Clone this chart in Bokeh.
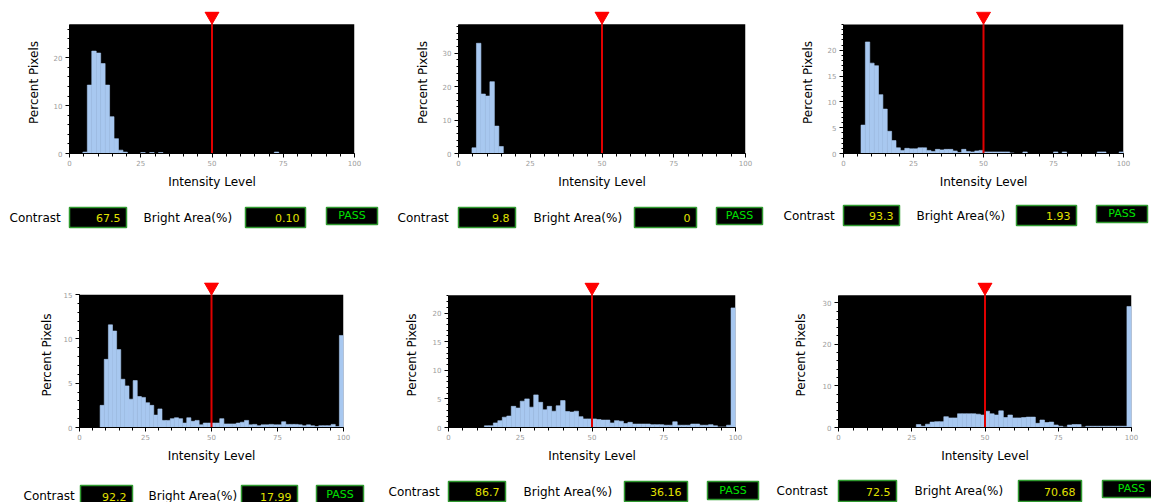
from bokeh.plotting import figure
from bokeh.layouts import column, row
from bokeh.models import Range1d, FixedTicker, BoxAnnotation
from bokeh.embed import file_html
from bokeh.resources import INLINE
from bokeh.core.properties import value

# ---------------- data ----------------
N_BINS = 64
THRESHOLD = 50
x_major_ticks = [0, 25, 50, 75, 100]
x_minor_ticks = [0, 5, 10, 15, 20, 25, 30, 35, 40, 45, 50, 55, 60, 65, 70, 75, 80, 85, 90, 95, 100]

hist_1 = [0, 0, 0, 0.3, 14.3, 21.4, 21.0, 18.8, 14.3, 7.7, 3.1, 0.7, 0.3, 0, 0, 0,
          0.2, 0, 0.2, 0, 0.2, 0, 0, 0, 0, 0, 0, 0, 0, 0, 0, 0,
          0, 0, 0, 0, 0, 0, 0, 0, 0, 0, 0, 0, 0, 0, 0.3, 0,
          0, 0, 0, 0, 0, 0, 0, 0, 0, 0, 0, 0, 0, 0, 0, 0]
hist_2 = [0, 0, 0, 1.7, 33.0, 17.8, 17.2, 21.5, 8.2, 2.1, 0, 0, 0, 0, 0, 0,
          0, 0, 0, 0, 0, 0, 0, 0, 0, 0, 0, 0, 0, 0, 0, 0,
          0, 0, 0, 0, 0, 0, 0, 0, 0, 0, 0, 0, 0, 0, 0, 0,
          0, 0, 0, 0, 0, 0, 0, 0, 0, 0, 0, 0, 0, 0, 0, 0]
hist_3 = [0, 0, 0, 0, 5.5, 21.6, 17.5, 17.0, 11.4, 8.6, 4.3, 2.5, 1.1, 0.6, 1.0, 0.9,
          0.9, 1.1, 1.1, 0.6, 0.4, 0.8, 0.7, 0.8, 0.8, 0.5, 0.2, 0.8, 0.4, 0.3, 0.5, 0.6,
          0.3, 0.3, 0.3, 0.3, 0.3, 0.3, 0.1, 0, 0, 0.3, 0, 0, 0, 0, 0, 0,
          0.3, 0, 0.3, 0, 0, 0, 0, 0, 0, 0, 0.3, 0.3, 0, 0, 0, 0.3]
hist_4 = [0, 0, 0, 0, 0, 2.5, 7.7, 11.6, 10.9, 8.8, 5.45, 4.7, 3.2, 5.3, 3.5, 3.4,
          2.8, 2.5, 1.4, 2.1, 0.8, 0.8, 1.0, 1.1, 1.0, 0.5, 1.1, 0.7, 0.8, 0.3, 0.5, 0.5,
          0.5, 0.5, 1.0, 0.4, 0.4, 0.4, 0.5, 0.6, 0.8, 0.3, 0.35, 0.2, 0.3, 0.3, 0.35, 0.3,
          0.3, 0.65, 0.35, 0.35, 0.35, 0.3, 0.2, 0.3, 0.2, 0.1, 0.2, 0.2, 0.2, 0.35, 0.1, 10.4]
hist_5 = [0, 0, 0, 0, 0, 0, 0, 0, 0.3, 0.3, 0.8, 1.2, 1.8, 2.0, 3.7, 3.4,
          4.6, 5.0, 3.55, 5.7, 4.4, 3.1, 3.7, 2.85, 3.8, 4.7, 2.8, 2.7, 2.85, 1.9, 1.5, 1.5,
          1.5, 1.4, 1.3, 1.3, 0.8, 1.2, 1.1, 0.7, 0.9, 0.6, 0.6, 0.6, 0.6, 0.5, 0.5, 0.5,
          0.4, 0.4, 1.0, 0.4, 0.4, 0.4, 0.6, 0.6, 0.4, 0.4, 0.5, 0.3, 0.1, 0.1, 0.4, 20.9]
hist_6 = [0, 0, 0, 0, 0, 0, 0, 0, 0, 0, 0, 0, 0, 0, 0, 0,
          0, 0.7, 0.3, 0.8, 1.3, 1.4, 1.4, 2.6, 2.3, 2.3, 3.3, 3.3, 3.3, 3.3, 3.2, 3.0,
          3.9, 3.3, 3.0, 4.0, 2.4, 3.0, 2.3, 2.3, 2.4, 2.5, 2.5, 1.0, 1.8, 1.2, 1.3, 0.6,
          0.3, 0.1, 0.6, 0.7, 0.7, 0.1, 0.3, 0.3, 0.3, 0.3, 0.3, 0.3, 0.3, 0.3, 0.3, 29.1]
histograms = [hist_1, hist_2, hist_3, hist_4, hist_5, hist_6]

y_max = [27, 38.7, 25, 15, 23.1, 31.8]
y_major_ticks = [[0, 10, 20], [0, 10, 20, 30], [0, 5, 10, 15, 20],
                 [0, 5, 10, 15], [0, 5, 10, 15, 20], [0, 10, 20, 30]]
y_minor_ticks = [[0, 2, 4, 6, 8, 10, 12, 14, 16, 18, 20, 22, 24, 26],
                 [0, 2, 4, 6, 8, 10, 12, 14, 16, 18, 20, 22, 24, 26, 28, 30, 32, 34, 36, 38],
                 [0, 1, 2, 3, 4, 5, 6, 7, 8, 9, 10, 11, 12, 13, 14, 15, 16, 17, 18, 19, 20, 21, 22, 23, 24, 25],
                 [0, 1, 2, 3, 4, 5, 6, 7, 8, 9, 10, 11, 12, 13, 14, 15],
                 [0, 1, 2, 3, 4, 5, 6, 7, 8, 9, 10, 11, 12, 13, 14, 15, 16, 17, 18, 19, 20, 21, 22, 23],
                 [0, 2, 4, 6, 8, 10, 12, 14, 16, 18, 20, 22, 24, 26, 28, 30]]

contrast_values = ["67.5", "9.8", "93.3", "92.2", "86.7", "72.5"]
bright_area_values = ["0.10", "0", "1.93", "17.99", "36.16", "70.68"]
status_values = ["PASS", "PASS", "PASS", "PASS", "PASS", "PASS"]

X_LABEL = "Intensity Level"
Y_LABEL = "Percent Pixels"
CONTRAST_LABEL = "Contrast"
BRIGHT_LABEL = "Bright Area(%)"

# ---------------- layout (page pixel coordinates) ----------------
PAGE_X0, PAGE_X1 = 0, 1151
cells_x = [(0, 388), (388, 768), (768, 1151)] * 2
cells_y = [(0, 198)] * 3 + [(258, 473)] * 3
# frame (black area) left, right, top, bottom
frames = [(69, 354, 24, 155), (458, 745, 22, 154), (843, 1123, 23, 153),
          (79, 343, 289, 430), (448, 735, 295, 429), (838, 1131, 292, 427)]
ylabel_standoff = [10, 10, 10, 7, 11, 12]
info_rows_y = [(198, 258), (473, 502)]
info_layout = [
    dict(lab1=9, b1=(69, 126), lab2=143, b2=(245, 305), ps=(326, 377), by=(207, 227), py=(207, 224)),
    dict(lab1=397, b1=(458, 515), lab2=533, b2=(634, 696), ps=(716, 762), by=(207, 227), py=(207, 224)),
    dict(lab1=783, b1=(843, 899), lab2=916, b2=(1016, 1076), ps=(1096, 1147), by=(205, 225), py=(205, 222)),
    dict(lab1=23, b1=(80, 132), lab2=148, b2=(241, 297), ps=(316, 363), by=(485, 506), py=(485, 503)),
    dict(lab1=388, b1=(448, 505), lab2=523, b2=(624, 687), ps=(707, 758), by=(481, 501), py=(481, 499)),
    dict(lab1=776, b1=(838, 896), lab2=914, b2=(1018, 1081), ps=(1102, 1160), by=(480, 501), py=(480, 497)),
]

FONT_NAME = "DejaVu Sans"
FONT = value(FONT_NAME)
BAR_COLOR = "#a8c8f0"
RED = "#e00000"
BOX_GREEN = "#2f9a2f"
VALUE_YELLOW = "#e2e200"
PASS_GREEN = "#00e000"
EXT = 13  # px of white space above the black area for the marker


def hist_panel(i):
    L, R, T, B = frames[i]
    cx0, cx1 = cells_x[i]
    cy0, cy1 = cells_y[i]
    ymax = y_max[i]
    ppu = (B - T) / ymax
    top_data = ymax + EXT / ppu
    p = figure(width=cx1 - cx0, height=cy1 - cy0,
               x_range=Range1d(0, 100), y_range=Range1d(0, top_data),
               output_backend="svg", toolbar_location=None,
               min_border_left=L - cx0, min_border_right=cx1 - R,
               min_border_top=(T - EXT) - cy0, min_border_bottom=cy1 - B)
    p.background_fill_color = "white"
    p.border_fill_color = "white"
    p.outline_line_color = None
    p.grid.visible = False

    p.add_layout(BoxAnnotation(top=ymax, fill_color="black", fill_alpha=1.0,
                               line_color=None, level="underlay"))

    vals = histograms[i]
    w = 100.0 / N_BINS
    lefts = [k * w for k in range(N_BINS) if vals[k] > 0]
    rights = [(k + 1) * w for k in range(N_BINS) if vals[k] > 0]
    tops = [vals[k] for k in range(N_BINS) if vals[k] > 0]
    p.quad(left=lefts, right=rights, bottom=0, top=tops,
           fill_color=BAR_COLOR, line_color=BAR_COLOR, line_width=0.6)

    p.segment(x0=[THRESHOLD], y0=[0], x1=[THRESHOLD], y1=[ymax],
              line_color=RED, line_width=2)
    p.scatter(x=[THRESHOLD], y=[ymax + 8.3 / ppu], marker="inverted_triangle",
              size=14, fill_color="#ff0000", line_color="#ff0000")

    p.xaxis.ticker = FixedTicker(ticks=x_major_ticks, minor_ticks=x_minor_ticks)
    p.yaxis.ticker = FixedTicker(ticks=y_major_ticks[i], minor_ticks=y_minor_ticks[i])
    p.yaxis.bounds = (0, ymax)
    p.xaxis.axis_label = X_LABEL
    p.yaxis.axis_label = Y_LABEL
    for ax in p.axis:
        ax.axis_line_color = "black"
        ax.major_tick_line_color = "black"
        ax.minor_tick_line_color = "black"
        ax.major_tick_in = 0
        ax.minor_tick_in = 0
        ax.major_tick_out = 4
        ax.minor_tick_out = 3
        ax.major_label_text_font = FONT_NAME
        ax.major_label_text_font_size = "7px"
        ax.major_label_text_color = "#9c9c9c"
        ax.axis_label_text_font = FONT_NAME
        ax.axis_label_text_font_size = "12px"
        ax.axis_label_text_font_style = "normal"
        ax.axis_label_text_color = "black"
    p.xaxis.major_label_standoff = 2
    p.xaxis.axis_label_standoff = 6
    p.yaxis.major_label_standoff = 3
    p.yaxis.minor_tick_out = 2
    p.yaxis.axis_label_standoff = ylabel_standoff[i]
    return p


def info_row(r, panel_ids):
    y0, y1 = info_rows_y[r]
    p = figure(width=PAGE_X1 - PAGE_X0, height=y1 - y0,
               x_range=Range1d(PAGE_X0, PAGE_X1), y_range=Range1d(y1, y0),
               x_axis_location=None, y_axis_location=None,
               output_backend="svg", toolbar_location=None, min_border=0)
    p.background_fill_color = "white"
    p.border_fill_color = "white"
    p.outline_line_color = None
    p.grid.visible = False
    for i in panel_ids:
        s = info_layout[i]
        by0, by1 = s["by"]
        py0, py1 = s["py"]
        ymid = (by0 + by1) / 2
        pmid = (py0 + py1) / 2
        p.quad(left=[s["b1"][0], s["b2"][0]], right=[s["b1"][1], s["b2"][1]],
               top=[by0, by0], bottom=[by1, by1],
               fill_color="black", line_color=BOX_GREEN, line_width=1.5)
        p.quad(left=[s["ps"][0]], right=[s["ps"][1]], top=[py0], bottom=[py1],
               fill_color="black", line_color=BOX_GREEN, line_width=1.5)
        p.text(x=[s["lab1"], s["lab2"]], y=[ymid, ymid], text=[CONTRAST_LABEL, BRIGHT_LABEL],
               text_align="left", text_baseline="middle", text_font=FONT,
               text_font_size="12px", text_color="black")
        p.text(x=[s["b1"][1] - 6, s["b2"][1] - 6], y=[ymid + 0.5, ymid + 0.5],
               text=[contrast_values[i], bright_area_values[i]],
               text_align="right", text_baseline="middle", text_font=FONT,
               text_font_size="11px", text_color=VALUE_YELLOW)
        p.text(x=[(s["ps"][0] + s["ps"][1]) / 2], y=[pmid - 0.5], text=[status_values[i]],
               text_align="center", text_baseline="middle", text_font=FONT,
               text_font_size="11px", text_color=PASS_GREEN)
    return p


panels = [hist_panel(i) for i in range(6)]
layout = column(
    row(panels[0], panels[1], panels[2]),
    info_row(0, [0, 1, 2]),
    row(panels[3], panels[4], panels[5]),
    info_row(1, [3, 4, 5]),
)

open("out.html", "w").write(file_html(layout, INLINE))
